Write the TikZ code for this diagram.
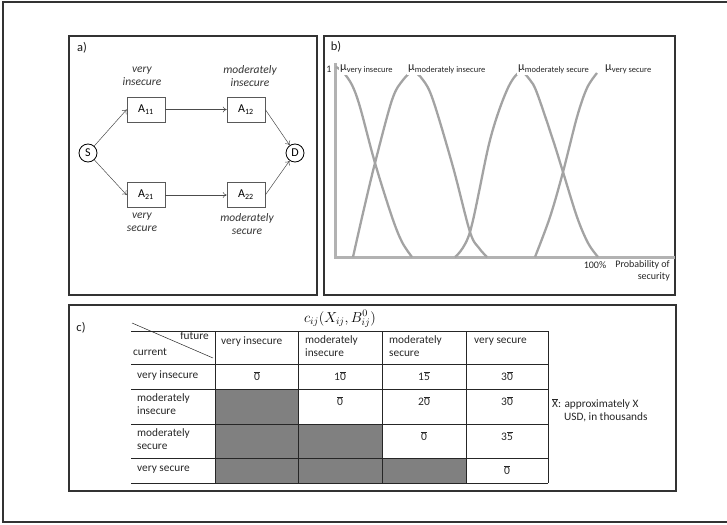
\documentclass[tikz,border=0pt]{standalone}
\usepackage{fontspec}
\setmainfont{Carlito}
\usetikzlibrary{arrows.meta}
\begin{document}
\begin{tikzpicture}[x=1pt,y=-1pt,
  frame/.style={draw=black!80, line width=1.1pt},
  abox/.style={draw=black!65, line width=0.6pt, minimum width=38pt, minimum height=25pt, inner sep=0pt, font=\fontsize{12}{12}\selectfont},
  circ/.style={draw=black, line width=0.8pt, circle, minimum size=18pt, inner sep=0pt, font=\fontsize{12}{12}\selectfont},
  lbl/.style={font=\fontsize{11.5}{13}\selectfont\itshape, align=center, text=black!80, inner sep=0pt},
  arr/.style={draw=black!70, line width=0.5pt, -{To[length=4pt,width=6pt]}},
  curve/.style={draw=black!36, line width=2.3pt},
  axisline/.style={draw=black!30, line width=3pt},
  mu/.style={fill=white, inner sep=1pt, anchor=west, text=black!85},
  small/.style={font=\fontsize{10}{12}\selectfont, inner sep=0pt, text=black!85},
  cell/.style={font=\fontsize{11.3}{13}\selectfont, inner sep=0pt, text=black!85, align=left},
  val/.style={font=\fontsize{11.5}{13}\selectfont, inner sep=0pt, text=black!85},
  grid/.style={draw=black!85, line width=0.7pt},
  shade/.style={fill=black!50},
  plabel/.style={font=\fontsize{12.5}{14}\selectfont, inner sep=0pt, text=black!90}
]
\useasboundingbox (0,0) rectangle (727,524);
% outer frame
\draw[frame] (727,2) -- (3,2) -- (3,522) -- (727,522);
% panels
\draw[frame] (69,36) rectangle (317,295);
\draw[frame] (324,36) rectangle (675,295);
\draw[frame] (69,305) rectangle (676,491);

% ---------- panel a ----------
\node[plabel] (la) at (82,48) {a)};
\node[circ] (S) at (88,153) {S};
\node[circ] (D) at (295,153) {D};
\node[abox] (A11) at (146,109.5) {A\textsubscript{11}};
\node[abox] (A12) at (246,109.5) {A\textsubscript{12}};
\node[abox] (A21) at (146,195) {A\textsubscript{21}};
\node[abox] (A22) at (246,195) {A\textsubscript{22}};
\node[lbl] (t11) at (142,76.5) {very\\insecure};
\node[lbl] (t12) at (250,76.5) {moderately\\insecure};
\node[lbl] (t21) at (142,222.5) {very\\secure};
\node[lbl] (t22) at (247,224) {moderately\\secure};
\draw[arr] (S) -- (A11.west);
\draw[arr] (S) -- (A21.west);
\draw[arr] (A11) -- (A12);
\draw[arr] (A21) -- (A22);
\draw[arr] (A12.east) -- (D);
\draw[arr] (A22.east) -- (D);

% ---------- panel b ----------
\node[plabel] (lb) at (336,47) {b)};
\draw[axisline] (335,63) -- (335,257) -- (675,257);
\draw[curve] plot[smooth, tension=0.55] coordinates {(336,67) (343,72) (352,85) (360,107) (375,163) (392,217) (402,242) (412,257)};
\draw[curve] plot[smooth, tension=0.55] coordinates {(353,257) (363,213) (375,163) (392,100) (403,80) (413,72) (423,80) (433,100) (453,167) (470,232) (479,248) (487,257)};
\draw[curve] plot[smooth, tension=0.55] coordinates {(455,257) (470,232) (490,140) (507,90) (520,72) (530,80) (537,93) (553,140) (563,172) (577,217) (588,243) (598,257)};
\draw[curve] plot[smooth, tension=0.55] coordinates {(535,257) (550,217) (563,172) (577,117) (587,88) (597,73)};
\node[small] (one) at (329,69) {1};
\node[mu] (m1) at (339,69) {\fontsize{12}{12}\selectfont μ\raisebox{-2pt}{\fontsize{8.5}{9}\selectfont very insecure}};
\node[mu] (m2) at (407,69) {\fontsize{12}{12}\selectfont μ\raisebox{-2pt}{\fontsize{8.5}{9}\selectfont moderately insecure}};
\node[mu] (m3) at (517,69) {\fontsize{12}{12}\selectfont μ\raisebox{-2pt}{\fontsize{8.5}{9}\selectfont moderately secure}};
\node[mu] (m4) at (604,69) {\fontsize{12}{12}\selectfont μ\raisebox{-2pt}{\fontsize{8.5}{9}\selectfont very secure}};
\node[small] (pc) at (595,265) {100\%};
\node[small, anchor=east] (pr1) at (670,265) {Probability of};
\node[small, anchor=east] (pr2) at (670,277) {security};

% ---------- panel c ----------
\node[plabel] (lc) at (81,328) {c)};
\node[inner sep=0pt, font=\fontsize{14.5}{16}\selectfont] (form) at (340,319) {$c_{ij}(X_{ij},B^0_{ij})$};
% shaded cells
\fill[shade] (215,389) rectangle (298,483);
\fill[shade] (298,424) rectangle (382,483);
\fill[shade] (382,458) rectangle (466,483);
% grid
\foreach \y in {331,364,389,424,458,483} \draw[grid] (131,\y) -- (548,\y);
\foreach \x in {215,298,382,466,548} \draw[grid] (\x,331) -- (\x,483);
\draw[draw=black!85, line width=0.5pt] (132,323) -- (213,358);
\node[cell, anchor=east] (fut) at (209,336) {future};
\node[cell, anchor=west] (cur) at (133,352) {current};
% header
\node[cell, anchor=west] (h1) at (221,342) {very insecure};
\node[cell, anchor=north west] (h2) at (305,335) {moderately\\insecure};
\node[cell, anchor=north west] (h3) at (389,335) {moderately\\secure};
\node[cell, anchor=west] (h4) at (474,342) {very secure};
% row labels
\node[cell, anchor=west] (r1) at (137,376) {very insecure};
\node[cell, anchor=north west] (r2) at (137,393) {moderately\\insecure};
\node[cell, anchor=north west] (r3) at (137,428) {moderately\\secure};
\node[cell, anchor=west] (r4) at (137,470) {very secure};
% values
\newcommand{\ob}[1]{\ensuremath{\overline{\mbox{#1}}}}
\node[val] (v11) at (257,376) {\ob{0}};
\node[val] (v12) at (340,376) {1\ob{0}};
\node[val] (v13) at (424,376) {1\ob{5}};
\node[val] (v14) at (507,376) {3\ob{0}};
\node[val] (v22) at (340,401) {\ob{0}};
\node[val] (v23) at (424,401) {2\ob{0}};
\node[val] (v24) at (507,401) {3\ob{0}};
\node[val] (v33) at (424,436) {\ob{0}};
\node[val] (v34) at (507,436) {3\ob{5}};
\node[val] (v44) at (507,470) {\ob{0}};
% note
\node[cell, anchor=north west] (note) at (552,398) {\ob{X}: approximately X\\\hspace*{12pt}USD, in thousands};
\end{tikzpicture}
\end{document}
